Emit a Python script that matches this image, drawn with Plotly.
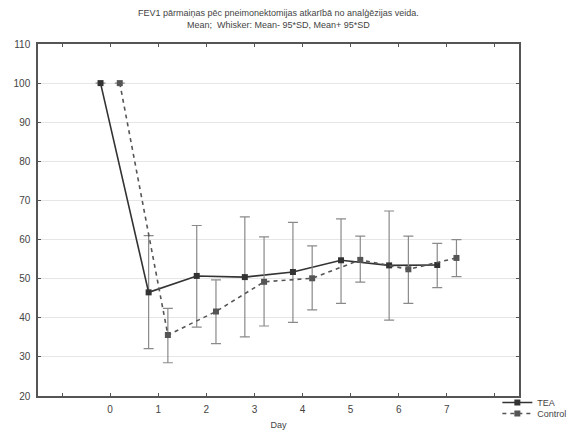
import plotly.graph_objects as go

days = [0, 1, 2, 3, 4, 5, 6, 7]
tea_mean = [100, 46.5, 50.7, 50.4, 51.7, 54.7, 53.4, 53.5]
tea_upper = [None, 61.0, 63.6, 65.8, 64.4, 65.3, 67.3, 59.0]
tea_lower = [None, 32.1, 37.6, 35.1, 38.8, 43.7, 39.4, 47.7]
ctrl_mean = [100, 35.6, 41.6, 49.2, 50.1, 54.8, 52.4, 55.3]
ctrl_upper = [None, 42.4, 49.7, 60.7, 58.4, 60.9, 60.9, 60.0]
ctrl_lower = [None, 28.5, 33.4, 37.9, 42.0, 49.1, 43.7, 50.5]
x_tickvals = [-1, 0, 1, 2, 3, 4, 5, 6, 7, 8]
x_ticktext = ["", "0", "1", "2", "3", "4", "5", "6", "7", ""]
y_tickvals = [20, 30, 40, 50, 60, 70, 80, 90, 100, 110]
title_lines = ["FEV1 pārmaiņas pēc pneimonektomijas atkarībā no analģēzijas veida.",
               "Mean;  Whisker: Mean- 95*SD, Mean+ 95*SD"]

OFFSET = 0.2

def err(mean, up, lo):
    plus = [None if u is None else u - m for m, u in zip(mean, up)]
    minus = [None if l is None else m - l for m, l in zip(mean, lo)]
    return plus, minus

tp, tm = err(tea_mean, tea_upper, tea_lower)
cp, cm = err(ctrl_mean, ctrl_upper, ctrl_lower)

fig = go.Figure()
fig.add_trace(go.Scatter(
    x=[d - OFFSET for d in days], y=tea_mean, name="TEA", mode="lines+markers",
    line=dict(color="#333333", width=1.6, dash="solid"),
    marker=dict(symbol="square", size=6, color="#333333"),
    error_y=dict(type="data", symmetric=False, array=tp, arrayminus=tm,
                 color="#8a8a8a", thickness=1.2, width=5),
    legend="legend",
))
fig.add_trace(go.Scatter(
    x=[d + OFFSET for d in days], y=ctrl_mean, name="Control", mode="lines+markers",
    line=dict(color="#555555", width=1.6, dash="4px,4px"),
    marker=dict(symbol="square", size=6, color="#555555"),
    error_y=dict(type="data", symmetric=False, array=cp, arrayminus=cm,
                 color="#8a8a8a", thickness=1.2, width=5),
    legend="legend2",
))

axis_common = dict(showline=True, linecolor="#555555", linewidth=1.5, mirror="ticks",
                   ticks="inside", ticklen=3, tickcolor="#555555", zeroline=False,
                   tickfont=dict(family="Liberation Sans, Arial", size=10, color="#444444"))

legend_common = dict(x=0.955, xanchor="left", yanchor="top",
                     font=dict(size=9, color="#444444"), tracegroupgap=0,
                     itemwidth=30, bgcolor="rgba(0,0,0,0)")

# page body has an 8px margin, so the figure is sized/margined to compensate
fig.update_layout(
    width=573, height=423,
    margin=dict(l=30, r=62, t=36, b=35, autoexpand=False),
    paper_bgcolor="white", plot_bgcolor="white",
    font=dict(family="Liberation Sans, Arial", size=10, color="#444444"),
    xaxis=dict(range=[-1.5, 8.5], tickvals=x_tickvals, ticktext=x_ticktext,
               showgrid=False, ticklabelstandoff=3,
               title=dict(text="Day", standoff=8, font=dict(size=9, color="#444444")),
               **axis_common),
    yaxis=dict(range=[20, 110], tickvals=y_tickvals, showgrid=True, ticklabelstandoff=4,
               gridcolor="#e6e6e6", gridwidth=1, **axis_common),
    legend=dict(y=0.0227, **legend_common),
    legend2=dict(y=-0.0085, **legend_common),
    showlegend=True,
    annotations=[
        dict(text=title_lines[0], xref="paper", yref="paper", x=0.5, xanchor="center",
             y=1 + 31 / 352, yanchor="middle", showarrow=False,
             font=dict(family="Liberation Sans, Arial", size=9, color="#444444")),
        dict(text=title_lines[1], xref="paper", yref="paper", x=0.5, xanchor="center",
             y=1 + 19 / 352, yanchor="middle", showarrow=False,
             font=dict(family="Liberation Sans, Arial", size=9, color="#444444")),
    ],
)

fig.write_html("out.html")
